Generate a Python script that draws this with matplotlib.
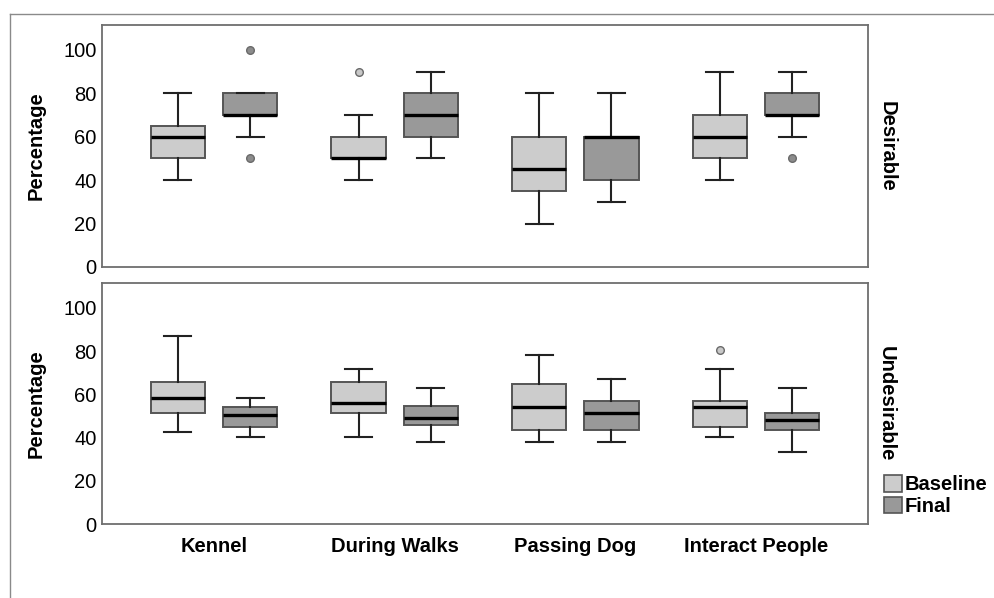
import matplotlib
matplotlib.use("Agg")
import matplotlib.pyplot as plt
from matplotlib.patches import Patch
from matplotlib.lines import Line2D

plt.rcParams['font.family'] = ['Liberation Sans', 'DejaVu Sans']

categories = ["Kennel", "During Walks", "Passing Dog", "Interact People"]
groups = ["Baseline", "Final"]
panels = ["Desirable", "Undesirable"]
y_ticks = [0, 20, 40, 60, 80, 100]

# five-number summaries per category: whisker low, Q1, median, Q3, whisker high
des_base_lo = [40, 40, 20, 40]
des_base_q1 = [50, 50, 35, 50]
des_base_med = [60, 50, 45, 60]
des_base_q3 = [65, 60, 60, 70]
des_base_hi = [80, 70, 80, 90]
des_base_out = [[], [90], [], []]

des_fin_lo = [60, 50, 30, 60]
des_fin_q1 = [70, 60, 40, 70]
des_fin_med = [70, 70, 60, 70]
des_fin_q3 = [80, 80, 60, 80]
des_fin_hi = [80, 90, 80, 90]
des_fin_out = [[50, 100], [], [], [50]]

und_base_lo = [42.4, 40.3, 38.0, 40.3]
und_base_q1 = [51.2, 51.2, 43.5, 44.8]
und_base_med = [58.2, 55.9, 53.9, 53.9]
und_base_q3 = [65.9, 65.9, 64.8, 56.9]
und_base_hi = [87.2, 71.6, 78.2, 71.6]
und_base_out = [[], [], [], [80.6]]

und_fin_lo = [40.3, 38.0, 38.0, 33.5]
und_fin_q1 = [44.8, 45.8, 43.5, 43.5]
und_fin_med = [50.5, 49.2, 51.4, 48.1]
und_fin_q3 = [53.9, 54.8, 56.9, 51.4]
und_fin_hi = [58.2, 62.7, 67.1, 62.7]
und_fin_out = [[], [], [], []]

box_colors = {"Baseline": "#cccccc", "Final": "#999999"}
flier_colors = {"Baseline": "#c8c8c8", "Final": "#8c8c8c"}


def make_stats(lo, q1, med, q3, hi, out):
    return [dict(whislo=a, q1=b, med=c, q3=d, whishi=e, fliers=f)
            for a, b, c, d, e, f in zip(lo, q1, med, q3, hi, out)]


panel_data = {
    "Desirable": {
        "Baseline": make_stats(des_base_lo, des_base_q1, des_base_med, des_base_q3, des_base_hi, des_base_out),
        "Final": make_stats(des_fin_lo, des_fin_q1, des_fin_med, des_fin_q3, des_fin_hi, des_fin_out),
    },
    "Undesirable": {
        "Baseline": make_stats(und_base_lo, und_base_q1, und_base_med, und_base_q3, und_base_hi, und_base_out),
        "Final": make_stats(und_fin_lo, und_fin_q1, und_fin_med, und_fin_q3, und_fin_hi, und_fin_out),
    },
}

W, H = 995, 598
FS = 14.5
fig = plt.figure(figsize=(W / 100, H / 100), dpi=100)


def ax_rect(left, top, right, bottom):
    return [left / W, 1 - bottom / H, (right - left) / W, (bottom - top) / H]


axes = [fig.add_axes(ax_rect(102, 25, 868, 267)),
        fig.add_axes(ax_rect(102, 283, 868, 524))]

offsets = {"Baseline": -0.2, "Final": 0.2}
spine_color = "#6e6e6e"

for ax, panel in zip(axes, panels):
    for g in groups:
        pos = [i + offsets[g] for i in range(len(categories))]
        ax.bxp(panel_data[panel][g], positions=pos, widths=0.3, capwidths=0.15,
               patch_artist=True, manage_ticks=False,
               boxprops=dict(facecolor=box_colors[g], edgecolor="#555555", linewidth=1.4),
               medianprops=dict(color="black", linewidth=2.4),
               whiskerprops=dict(color="#222222", linewidth=1.5),
               capprops=dict(color="#222222", linewidth=1.5),
               flierprops=dict(marker="o", markersize=5.5, markerfacecolor=flier_colors[g],
                               markeredgecolor="#6a6a6a", markeredgewidth=1.0))
    ax.set_xlim(-0.62, 3.62)
    ax.set_ylim(0, 111.5)
    ax.set_yticks(y_ticks)
    ax.set_yticklabels([str(t) for t in y_ticks], fontsize=FS)
    ax.tick_params(axis="y", length=0, pad=4)
    ax.set_ylabel("Percentage", fontsize=FS, fontweight="bold")
    ax.yaxis.set_label_coords(-0.073, 0.5)
    for s in ax.spines.values():
        s.set_color(spine_color)
        s.set_linewidth(1.3)
    ax.text(1.012, 0.5, panel, transform=ax.transAxes, rotation=-90,
            ha="left", va="center", fontsize=FS, fontweight="bold")

axes[0].set_xticks([])
axes[1].set_xticks(range(len(categories)))
axes[1].set_xticklabels(categories, fontsize=FS, fontweight="bold")
axes[1].tick_params(axis="x", length=0, pad=9)

# outer chart frame
fig.add_artist(Line2D([10 / W, 1.0], [1 - 14 / H, 1 - 14 / H], transform=fig.transFigure,
                      color="#8a8a8a", linewidth=1.0))
fig.add_artist(Line2D([10 / W, 10 / W], [1 - 14 / H, 0.0], transform=fig.transFigure,
                      color="#8a8a8a", linewidth=1.0))

handles = [Patch(facecolor=box_colors[g], edgecolor="#555555", linewidth=1.2, label=g) for g in groups]
fig.legend(handles=handles, loc="upper left", bbox_to_anchor=(884 / W, 1 - 475 / H),
           frameon=False, prop=dict(size=FS, weight="bold"), handlelength=0.9,
           handleheight=0.9, handletextpad=0.12, labelspacing=0.12, borderpad=0,
           borderaxespad=0)

fig.savefig("out.png", dpi=100)
